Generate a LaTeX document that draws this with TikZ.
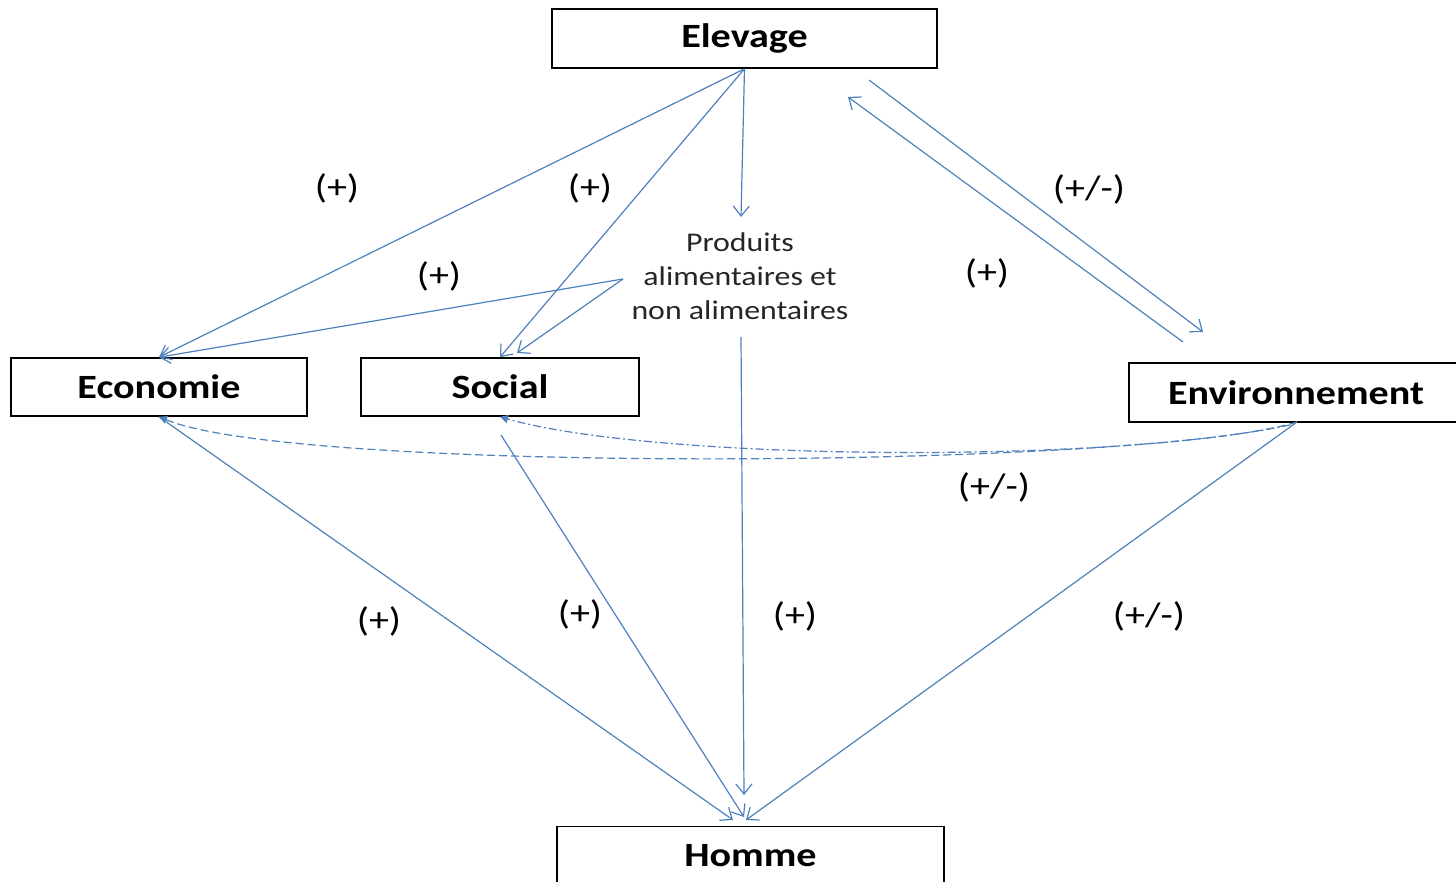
\documentclass[tikz,border=0pt]{standalone}
\usepackage{fontspec}
\setmainfont{Carlito}[FakeStretch=1.18]
\usetikzlibrary{arrows.meta}
\definecolor{lnblue}{RGB}{79,129,189}
\tikzset{
  box/.style={draw=black, line width=0.8pt, fill=white, inner sep=0pt, font=\fontsize{17}{20}\selectfont\bfseries},
  lbl/.style={inner sep=0pt, font=\fontsize{17}{20}\selectfont},
  conn/.style={draw=lnblue, line width=0.6pt, -{Straight Barb[length=5pt,width=8pt,line width=0.6pt]}},
  dconn/.style={draw=lnblue, line width=0.6pt, dashed, dash pattern=on 4pt off 2pt, -{Triangle[length=4pt,width=4pt]}},
  ddconn/.style={draw=lnblue, line width=0.6pt, dash pattern=on 4pt off 1.5pt on 1pt off 1.5pt, -{Triangle[length=4pt,width=4pt]}},
}
\begin{document}
\begin{tikzpicture}[x=0.5pt,y=-0.5pt]
\clip (0,0) rectangle (1456,882);
\fill[white] (0,0) rectangle (1456,882);
% boxes
\node[box, minimum width=192.5pt, minimum height=29.5pt] (elev) at (744.5,38.5) {Elevage};
\node[box, minimum width=148pt, minimum height=29pt] (eco) at (159,387) {Economie};
\node[box, minimum width=139pt, minimum height=29pt] (soc) at (500,387) {Social};
\node[box, minimum width=167pt, minimum height=29.5pt] (env) at (1296,392.5) {Environnement};
\node[box, minimum width=193.5pt, minimum height=29.5pt] (hom) at (750.5,856) {Homme};
\node[inner sep=0pt, align=center, font=\fontsize{13.5}{17}\selectfont, text=black!85] (prod) at (740,276) {Produits\\alimentaires et\\non alimentaires};
% coordinates
\coordinate (pt) at (741,217);
\coordinate (pl) at (623,279);
\coordinate (pb) at (741,337);
\coordinate (socn) at (517,353);
\coordinate (ea1) at (869,80);
\coordinate (ea2) at (1203,332);
\coordinate (eb1) at (1183,342);
\coordinate (eb2) at (848,97);
\coordinate (socs) at (501,435);
\coordinate (h1) at (733,820);
\coordinate (h2) at (744,817);
\coordinate (h3) at (744,795);
\coordinate (h4) at (746,820);
\coordinate (envs) at (1297,422);
\coordinate (envs2) at (1290,425);
% connectors
\draw[conn] (elev.south) -- (eco.north);
\draw[conn] (elev.south) -- (soc.north);
\draw[conn] (elev.south) -- (pt);
\draw[conn] (pl) -- (eco.north);
\draw[conn] (pl) -- (socn);
\draw[conn] (ea1) -- (ea2);
\draw[conn] (eb1) -- (eb2);
\draw[conn] (pb) -- (h3);
\draw[conn] (eco.south) -- (h1);
\draw[conn] (socs) -- (h2);
\draw[conn] (envs) -- (h4);
\draw[dconn] (envs) .. controls (1150,468) and (300,475) .. (eco.south);
\draw[ddconn] (envs2) .. controls (1100,465) and (650,460) .. (soc.south);
% labels
\node[lbl] (l1) at (337,188) {(+)};
\node[lbl] (l2) at (590,188) {(+)};
\node[lbl] (l3) at (439,276) {(+)};
\node[lbl] (l4) at (987,273) {(+)};
\node[lbl] (l5) at (1089,189) {(+/-)};
\node[lbl] (l6) at (994,487) {(+/-)};
\node[lbl] (l7) at (379,621) {(+)};
\node[lbl] (l8) at (580,614) {(+)};
\node[lbl] (l9) at (795,616) {(+)};
\node[lbl] (l10) at (1149,616) {(+/-)};
\end{tikzpicture}
\end{document}
